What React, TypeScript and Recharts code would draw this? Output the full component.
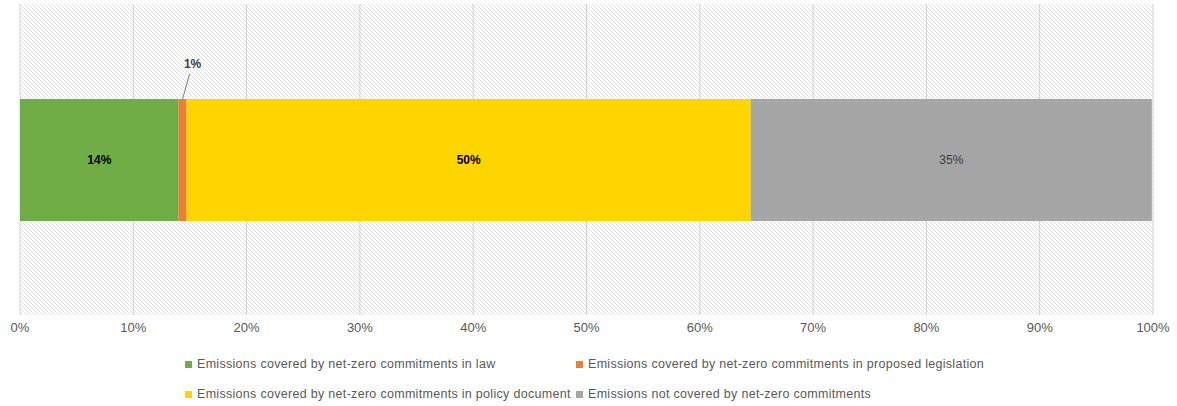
import React from 'react';
import {
  BarChart,
  Bar,
  XAxis,
  YAxis,
  CartesianGrid,
  LabelList,
} from 'recharts';

const categories = ['Global emissions'];
const seriesNames = [
  'Emissions covered by net-zero commitments in law',
  'Emissions covered by net-zero commitments in proposed legislation',
  'Emissions covered by net-zero commitments in policy document',
  'Emissions not covered by net-zero commitments',
];
const seriesKeys = ['law', 'proposed', 'policy', 'notCovered'];
const lawValues = [14.0];
const proposedValues = [0.7];
const policyValues = [49.8];
const notCoveredValues = [35.4];
const xTicks = [0, 10, 20, 30, 40, 50, 60, 70, 80, 90, 100];

const COLORS = ['#70AD47', '#ED7D31', '#FFD500', '#A5A5A5'];
const LABEL_COLORS = ['#000000', '#404040', '#000000', '#404040'];
const LABEL_BOLD = [true, true, true, false];

const data = categories.map((name, i) => ({
  name,
  law: lawValues[i],
  proposed: proposedValues[i],
  policy: policyValues[i],
  notCovered: notCoveredValues[i],
}));

const FONT = '"Liberation Sans", Arial, sans-serif';

function makeLabel(idx: number) {
  return (props: any) => {
    const { x, y, width, height, value } = props;
    const text = `${Math.round(value)}%`;
    if (idx === 1) {
      // small slice: label above with leader line
      const cx = x + width / 2;
      return (
        <g>
          <line x1={cx} y1={y} x2={cx + 7} y2={y - 25} stroke="#7f7f7f" strokeWidth={1} />
          <text
            x={cx + 10}
            y={y - 31}
            textAnchor="middle"
            fontFamily={FONT}
            fontSize={12}
            fontWeight="bold"
            fill={LABEL_COLORS[idx]}
          >
            {text}
          </text>
        </g>
      );
    }
    return (
      <text
        x={x + width / 2}
        y={y + height / 2 + 4}
        textAnchor="middle"
        fontFamily={FONT}
        fontSize={12}
        fontWeight={LABEL_BOLD[idx] ? 'bold' : 'normal'}
        fill={LABEL_COLORS[idx]}
      >
        {text}
      </text>
    );
  };
}

export default function App() {
  return (
    <div style={{ position: 'absolute', left: 0, top: 0, width: 1177, height: 406, background: '#fff' }}>
      <svg width={0} height={0} style={{ position: 'absolute' }}>
        <defs>
          <pattern id="hatch" width={4} height={4} patternUnits="userSpaceOnUse">
            <rect width={4} height={4} fill="#ffffff" />
            <path d="M-1,-1 L5,5 M-1,3 L1,5 M3,-1 L5,1" stroke="#d6d6d6" strokeWidth={0.8} />
          </pattern>
        </defs>
      </svg>
      <BarChart
        width={1177}
        height={345}
        data={data}
        layout="vertical"
        margin={{ top: 4, right: 24, bottom: 0, left: 20 }}
      >
        <CartesianGrid
          horizontal={false}
          vertical
          stroke="#d0d0d0"
          fill="url(#hatch)"
          fillOpacity={1}
        />
        <XAxis
          type="number"
          domain={[0, 100]}
          ticks={xTicks}
          tickFormatter={(v: number) => `${v}%`}
          axisLine={false}
          tickLine={false}
          height={30}
          tick={{ fill: '#595959', fontSize: 13, fontFamily: FONT }}
          interval={0}
        />
        <YAxis type="category" dataKey="name" hide />
        {seriesKeys.map((key, idx) => (
          <Bar
            key={key}
            dataKey={key}
            name={seriesNames[idx]}
            stackId="a"
            fill={COLORS[idx]}
            barSize={122}
            isAnimationActive={false}
          >
            <LabelList dataKey={key} content={makeLabel(idx)} />
          </Bar>
        ))}
      </BarChart>
      {seriesNames.map((name, idx) => {
        const col = idx % 2;
        const row = Math.floor(idx / 2);
        return (
          <div
            key={name}
            style={{
              position: 'absolute',
              left: col === 0 ? 185 : 576,
              top: row === 0 ? 357 : 387,
              display: 'flex',
              alignItems: 'center',
              fontFamily: FONT,
              fontSize: 12.5,
              letterSpacing: 0.3,
              color: '#595959',
              whiteSpace: 'nowrap',
            }}
          >
            <span
              style={{
                display: 'inline-block',
                width: 7,
                height: 7,
                background: COLORS[idx],
                marginRight: 5,
              }}
            />
            {name}
          </div>
        );
      })}
    </div>
  );
}
